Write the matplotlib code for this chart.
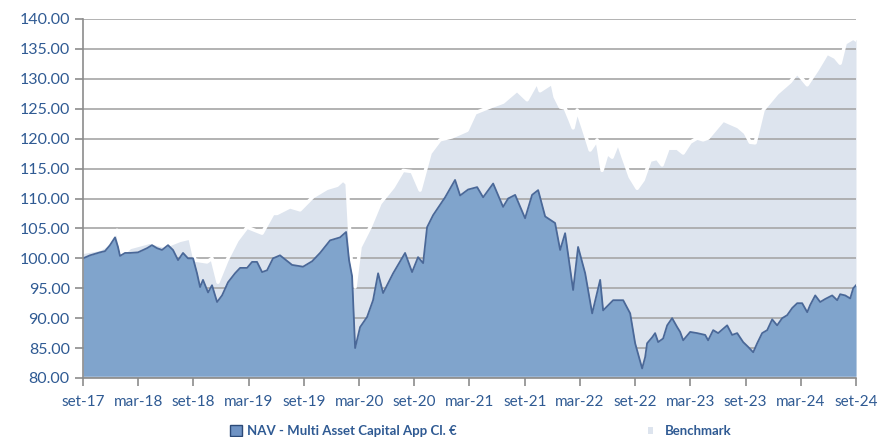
import numpy as np
import matplotlib
matplotlib.use("Agg")
import matplotlib.pyplot as plt
from matplotlib.patches import Patch

# months since set-17
nav_month = [0, 0.76, 1.85, 2.39, 2.93, 3.48, 3.8, 4.02, 4.57, 5.11, 5.98, 6.96, 7.5,
             8.04, 8.59, 9.24, 9.78, 10.33, 10.87, 11.41, 11.96, 12.39, 12.72, 13.04,
             13.59, 14.02, 14.57, 15.11, 15.76, 16.52, 17.07, 17.83, 18.37, 18.91,
             19.46, 20.0, 20.65, 21.41, 22.72, 23.91, 24.89, 25.76,
             26.85, 27.93, 28.59, 28.91, 29.24, 29.57, 30.11, 30.87, 31.52, 32.07,
             32.61, 33.7, 35.0, 35.76, 36.41, 36.96, 37.39, 38.04, 39.35, 40.43,
             40.98, 41.85, 42.83, 43.48, 44.57, 45.65, 46.2, 46.96, 48.04, 48.8,
             49.46, 50.22, 51.3, 51.85, 52.39, 53.26, 53.8, 54.57, 55.33, 56.2,
             56.52, 57.61, 58.7, 59.46, 60.0, 60.76, 61.09, 61.3, 61.85, 62.17,
             62.5, 63.04, 63.48, 64.02, 64.57, 64.89, 65.22, 65.98, 66.74, 67.61,
             67.93, 68.48, 69.02, 70.0, 70.54, 71.09, 71.74, 72.28, 72.83, 73.26,
             73.8, 74.35, 74.89, 75.43, 75.98, 76.52, 77.07, 77.61, 78.15, 78.7,
             79.02, 79.57, 80.11, 80.65, 81.41, 81.96, 82.28, 82.83, 83.37, 83.7,
             84.0]
nav_value = [100.0, 100.5, 101.0, 101.2, 102.2, 103.5, 101.9, 100.4, 100.9, 100.9,
             101.0, 101.7, 102.2, 101.7, 101.4, 102.2, 101.4, 99.7, 100.9, 100.0,
             100.0, 97.5, 95.2, 96.4, 94.3, 95.5, 92.7, 93.8, 96.0, 97.5, 98.4, 98.4,
             99.4, 99.4, 97.7, 98.0, 100.0, 100.5, 98.9, 98.6, 99.5, 100.9,
             103.0, 103.5, 104.4, 99.7, 97.0, 85.0, 88.5, 90.2, 93.0, 97.5, 94.2,
             97.5, 100.9, 97.7, 100.2, 99.2, 105.2, 107.2, 110.2, 113.1, 110.5,
             111.5, 111.9, 110.2, 112.5, 108.6, 110.0, 110.6, 106.7, 110.6, 111.4,
             107.0, 105.9, 101.4, 104.2, 94.7, 101.9, 97.5, 90.8, 96.4, 91.3, 93.0,
             93.0, 90.8, 85.8, 81.6, 83.5, 85.8, 86.8, 87.5, 86.0, 86.6, 88.8, 90.0,
             88.5, 87.7, 86.3, 87.7, 87.5, 87.2, 86.3, 88.0, 87.5, 88.8, 87.2, 87.5,
             86.0, 85.2, 84.3, 85.8, 87.5, 88.0, 89.8, 88.8, 90.0, 90.5, 91.7, 92.5,
             92.5, 91.0, 92.2, 93.8, 92.7, 93.2, 93.8, 93.0, 94.0, 93.8, 93.3, 95.0,
             95.5]

bench_month = [0, 1.85, 2.93, 3.7, 4.24, 5.11, 7.28, 8.91, 10.54, 11.63, 12.17,
               13.48, 14.02, 14.67, 15.65, 16.74, 17.83, 19.46, 20.65, 21.09, 22.5,
               23.59, 25.0, 26.52, 27.61, 28.26, 28.7, 29.13, 29.57, 30.11, 31.2,
               32.28, 33.7, 34.78, 35.76, 36.63, 37.72, 38.8, 40.11, 41.3, 41.74,
               42.61, 44.24, 45.65, 47.17, 48.26, 49.35, 49.67, 50.98, 51.3, 51.85,
               52.39, 52.93, 53.26, 53.7, 54.35, 55.11, 55.87, 56.41, 56.96, 57.5,
               58.15, 58.7, 59.46, 60.22, 60.87, 61.63, 62.39, 62.93, 63.59, 64.57,
               65.22, 65.98, 66.74, 67.39, 67.93, 69.57, 71.2, 71.96, 72.5, 73.04,
               73.91, 75.43, 76.85, 77.61, 78.7, 79.78, 80.87, 81.74, 82.28, 82.83,
               83.7, 84.0]
bench_value = [101.0, 101.5, 102.5, 104.7, 100.5, 101.8, 102.7, 102.0, 103.0, 103.4,
               99.7, 99.4, 100.0, 96.0, 99.7, 103.0, 105.2, 104.2, 107.5, 107.5,
               108.6, 108.1, 110.3, 111.7, 112.2, 113.1, 112.5, 100.0, 95.2, 101.9,
               105.2, 109.2, 111.9, 114.7, 114.5, 111.4, 117.6, 119.8, 120.3, 121.1,
               121.4, 124.3, 125.3, 126.1, 128.1, 126.5, 129.5, 128.0, 129.3, 127.0,
               125.3, 125.1, 123.1, 121.8, 124.8, 121.8, 118.1, 119.8, 114.7, 117.6,
               116.9, 119.4, 116.9, 113.6, 111.7, 113.1, 116.4, 116.7, 115.6, 118.4,
               118.4, 117.6, 119.4, 120.1, 119.8, 120.1, 123.1, 122.0, 121.0, 119.4,
               119.3, 124.8, 127.6, 129.5, 131.0, 129.0, 131.5, 134.3, 133.6, 132.6,
               136.0, 136.8, 136.5]

tick_labels = ["set-17", "mar-18", "set-18", "mar-19", "set-19", "mar-20", "set-20",
               "mar-21", "set-21", "mar-22", "set-22", "mar-23", "set-23", "mar-24",
               "set-24"]

label_color = "#2f5a93"
plt.rcParams['font.family'] = ['Lato', 'DejaVu Sans']

fig = plt.figure(figsize=(8.79, 4.37), dpi=100)
ax = fig.add_axes([83 / 879, 1 - 378 / 437, 773 / 879, 359 / 437])

ax.fill_between(bench_month, 80, bench_value, color="#dde4ee", lw=0, zorder=1)
ax.plot(bench_month, bench_value, color="white", lw=2.5, zorder=3)
ax.fill_between(nav_month, 80.3, nav_value, color="#80a4cc", lw=0, zorder=4)
ax.plot(nav_month, nav_value, color="#4a6898", lw=1.3, zorder=5)

ax.set_xlim(0, 84)
ax.set_ylim(80, 140)
ax.set_yticks(np.arange(80, 141, 5))
ax.set_yticklabels([f"{v:.2f}" for v in np.arange(80, 141, 5)])
ax.set_xticks(np.arange(0, 85, 6))
ax.set_xticklabels(tick_labels)
ax.grid(axis="y", color="#a6a6a6", lw=1.2, zorder=2)
ax.set_axisbelow(False)
for g in ax.get_ygridlines():
    g.set_zorder(2)

for s in ["top", "right"]:
    ax.spines[s].set_visible(False)
for s in ["left", "bottom"]:
    ax.spines[s].set_color("#8c8c8c")
    ax.spines[s].set_linewidth(1.2)
    ax.spines[s].set_zorder(6)
ax.tick_params(axis="both", direction="out", length=6, width=1.2, color="#8c8c8c",
               labelcolor=label_color, labelsize=11.5)
ax.tick_params(axis="x", pad=6, labelsize=11)

h1 = Patch(facecolor="#6f93c4", edgecolor="#2c4a78", lw=1.0)
h2 = Patch(facecolor="#dde4ee", edgecolor="none")
leg1 = fig.legend([h1], ["NAV - Multi Asset Capital App Cl. €"], loc="center left",
                  bbox_to_anchor=(218 / 879, 1 - 431 / 437), frameon=False,
                  handlelength=0.9, handleheight=0.9, handletextpad=0.4,
                  prop={"weight": "bold", "size": 9.5}, labelcolor=label_color)
leg2 = fig.legend([h2], ["Benchmark"], loc="center left",
                  bbox_to_anchor=(636 / 879, 1 - 431 / 437), frameon=False,
                  handlelength=0.4, handleheight=0.4, handletextpad=0.9,
                  prop={"weight": "bold", "size": 9.5}, labelcolor=label_color)

fig.savefig("out.png", dpi=100)
